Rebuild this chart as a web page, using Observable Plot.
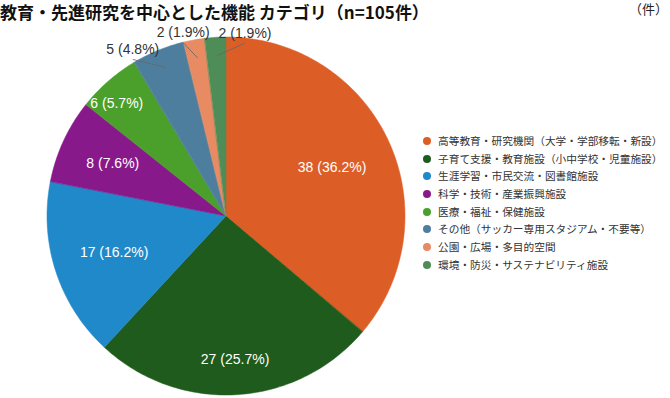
<!DOCTYPE html>
<html><head><meta charset="utf-8">
<script src="https://cdn.jsdelivr.net/npm/d3@7"></script>
<script src="https://cdn.jsdelivr.net/npm/@observablehq/plot@0.6"></script>
<style>
body{margin:0;background:#fff;}
#wrap{position:relative;width:670px;height:398px;background:#fff;font-family:"Noto Sans CJK JP","Noto Sans",sans-serif;}
#title{height:23px;margin-top:-1px;font-size:17px;line-height:25px;font-weight:bold;color:#111;white-space:nowrap;overflow:visible;}
#unit{position:absolute;right:2px;top:0px;font-size:13px;line-height:20px;color:#222;}
#chart{display:block;}
#chart svg{display:block;}
#legend{position:absolute;left:423px;top:133px;font-size:10.7px;color:#333;}
#legend .row{height:17.7px;line-height:17.7px;white-space:nowrap;display:flex;align-items:center;}
#legend .sw{width:8px;height:8px;border-radius:50%;margin-right:7px;flex:none;}
</style></head>
<body>
<div id="wrap">
  <div id="title"></div>
  <div id="chart"></div>
  <div id="unit">（件）</div>
  <div id="legend"></div>
</div>
<script>
const titleText = "教育・先進研究を中心とした機能 カテゴリ（n=105件）";
const categories = [
  "高等教育・研究機関（大学・学部移転・新設）",
  "子育て支援・教育施設（小中学校・児童施設）",
  "生涯学習・市民交流・図書館施設",
  "科学・技術・産業振興施設",
  "医療・福祉・保健施設",
  "その他（サッカー専用スタジアム・不要等）",
  "公園・広場・多目的空間",
  "環境・防災・サステナビリティ施設"
];
const counts = [38, 27, 17, 8, 6, 5, 2, 2];
const percents = ["36.2%", "25.7%", "16.2%", "7.6%", "5.7%", "4.8%", "1.9%", "1.9%"];
const colors = ["#DC5E26", "#1E5B1C", "#2089CA", "#88198A", "#4B9F2B", "#4E7E9E", "#E88A62", "#4E8C58"];

// layout (label placement relative to pie radius / mid angle)
const labelRadius = [0.65, 0.80, 0.66, 0.70, 0.88, 1.07, 1.055, 1.03];
const labelAngleShift = [0, 0, 0, 0, -3, -7, -3, 9.2];

document.getElementById("title").textContent = titleText;

const cx = 226, cy = 194, R = 179;
const pie = d3.pie().sort(null).value(d => d)(counts);

const wedgePts = [];
pie.forEach((p, i) => {
  const n = Math.max(4, Math.ceil((p.endAngle - p.startAngle) / (Math.PI / 180)));
  for (let k = 0; k <= n; k++) {
    const a = p.startAngle + (p.endAngle - p.startAngle) * k / n;
    wedgePts.push({key: categories[i], x1: 0, y1: 0, x2: Math.sin(a), y2: Math.cos(a)});
  }
});

const labels = pie.map((p, i) => {
  const mid = (p.startAngle + p.endAngle) / 2;
  const a = mid + labelAngleShift[i] * Math.PI / 180;
  const r = labelRadius[i];
  return {
    text: `${counts[i]} (${percents[i]})`,
    x: r * Math.sin(a), y: r * Math.cos(a),
    outside: r > 1,
    lx1: 0.9 * Math.sin(mid), ly1: 0.9 * Math.cos(mid)
  };
});
const outside = labels.filter(d => d.outside);

const chart = Plot.plot({
  width: 670, height: 376,
  margin: 0,
  x: {domain: [-1, 1], range: [cx - R, cx + R], axis: null},
  y: {domain: [-1, 1], range: [cy + R, cy - R], axis: null},
  color: {domain: categories, range: colors},
  style: {background: "transparent", fontFamily: "'Liberation Sans', Arial, sans-serif", overflow: "visible"},
  marks: [
    Plot.area(wedgePts, {x1: "x1", y1: "y1", x2: "x2", y2: "y2", z: "key", fill: "key", stroke: "key", strokeWidth: 0.5, curve: "linear"}),
    Plot.link(outside, {x1: "lx1", y1: "ly1", x2: "x", y2: d => d.y - 10 / R, stroke: "#666", strokeWidth: 0.8}),
    Plot.text(labels, {x: "x", y: "y", text: "text", fill: d => d.outside ? "#333" : "#fff", fontSize: 14})
  ]
});
document.getElementById("chart").appendChild(chart);

const leg = d3.select("#legend");
categories.forEach((c, i) => {
  const row = leg.append("div").attr("class", "row");
  row.append("span").attr("class", "sw").style("background", colors[i]);
  row.append("span").text(c);
});
</script>
</body></html>
